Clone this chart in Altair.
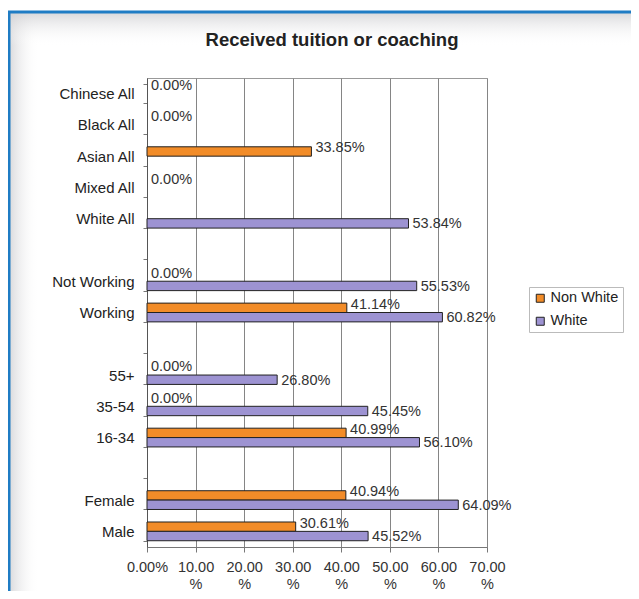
import altair as alt
import pandas as pd

title_text = "Received tuition or coaching"
categories = ["Chinese All", "Black All", "Asian All", "Mixed All", "White All", " ",
              "Not Working", "Working", "  ", "55+", "35-54", "16-34", "   ", "Female", "Male"]
series = ["Non White", "White"]
non_white = [0.00, 0.00, 33.85, 0.00, None, None, 0.00, 41.14, None, 0.00, 0.00, 40.99, None, 40.94, 30.61]
white = [None, None, None, None, 53.84, None, 55.53, 60.82, None, 26.80, 45.45, 56.10, None, 64.09, 45.52]
x_ticks = [0, 10, 20, 30, 40, 50, 60, 70]

ORANGE = "#F28C28"
PURPLE = "#9D93D2"
FONT = "Liberation Sans"

rows = []
for c, nw, w in zip(categories, non_white, white):
    if nw is not None:
        rows.append({"cat": c, "series": "Non White", "value": nw, "label": f"{nw:.2f}%"})
    if w is not None:
        rows.append({"cat": c, "series": "White", "value": w, "label": f"{w:.2f}%"})
df = pd.DataFrame(rows)

W, H = 340, 469

y_enc = alt.Y("cat:N", scale=alt.Scale(domain=categories, paddingInner=0.40, paddingOuter=0.20),
              axis=alt.Axis(title=None, tickBand="extent", ticks=True, tickSize=4, tickColor="#777",
                            domainColor="#555", labelFontSize=15, labelFont=FONT, labelColor="#222",
                            labelPadding=9, grid=False, labelLimit=200))
yoff = alt.YOffset("series:N", scale=alt.Scale(domain=series))
x_enc = alt.X("value:Q", scale=alt.Scale(domain=[0, 70], nice=False),
              axis=alt.Axis(title=None, values=x_ticks, grid=True, gridColor="#858585", gridWidth=1,
                            domainColor="#777", tickColor="#777", tickSize=5, labelFontSize=14.5,
                            labelFont=FONT, labelColor="#333", labelPadding=8, labelLineHeight=17,
                            labelOverlap=False, labelFlush=False, labelBound=False,
                            labelExpr="datum.value == 0 ? '0.00%' : [format(datum.value, '.2f'), '%']"))

bars = alt.Chart(df).transform_filter("datum.value > 0").mark_bar(
    stroke="#222", strokeWidth=1
).encode(
    x=x_enc, y=y_enc, yOffset=yoff,
    color=alt.Color("series:N", scale=alt.Scale(domain=series, range=[ORANGE, PURPLE]),
                    legend=alt.Legend(title=None, orient="none", legendX=382, legendY=209,
                                      symbolType="square", symbolSize=64, symbolStrokeColor="#222",
                                      symbolStrokeWidth=1, labelFontSize=14.5, labelFont=FONT,
                                      labelColor="#222", strokeColor="#bbbbbb", fillColor="white",
                                      padding=4, rowPadding=8, labelOffset=3)),
)

labels_nw = alt.Chart(df).transform_filter("datum.series == 'Non White'").mark_text(
    align="left", baseline="middle", dx=4, dy=-3, fontSize=14.5, font=FONT, color="#333"
).encode(x="value:Q", y=alt.Y("cat:N"), yOffset=yoff, text="label:N")

labels_w = alt.Chart(df).transform_filter("datum.series == 'White'").mark_text(
    align="left", baseline="middle", dx=4, dy=1, fontSize=14.5, font=FONT, color="#333"
).encode(x="value:Q", y=alt.Y("cat:N"), yOffset=yoff, text="label:N")

deco = pd.DataFrame({"t": [title_text]})
left_shadow = alt.Chart(deco).mark_rect(
    fill=alt.Gradient(gradient="linear", x1=0, x2=1, y1=0, y2=0,
                      stops=[alt.GradientStop(color="rgba(205,205,208,0.75)", offset=0),
                             alt.GradientStop(color="rgba(255,255,255,0)", offset=1)])
).encode(x=alt.value(-138), x2=alt.value(-108), y=alt.value(-65), y2=alt.value(520))
top_shadow = alt.Chart(deco).mark_rect(
    fill=alt.Gradient(gradient="linear", x1=0, x2=0, y1=0, y2=1,
                      stops=[alt.GradientStop(color="rgba(205,205,208,0.75)", offset=0),
                             alt.GradientStop(color="rgba(255,255,255,0)", offset=1)])
).encode(x=alt.value(-138), x2=alt.value(484), y=alt.value(-65), y2=alt.value(-32))
blue_top = alt.Chart(deco).mark_rule(color="#1f7cc4", strokeWidth=3).encode(
    x=alt.value(-139), x2=alt.value(484), y=alt.value(-66))
blue_left = alt.Chart(deco).mark_rule(color="#1f7cc4", strokeWidth=3).encode(
    x=alt.value(-138), y=alt.value(-67), y2=alt.value(520))
title = alt.Chart(deco).mark_text(
    fontSize=18.5, fontWeight="bold", font=FONT, color="#222", align="center", baseline="alphabetic"
).encode(x=alt.value(185), y=alt.value(-32), text="t:N")

chart = alt.layer(left_shadow, top_shadow, blue_top, blue_left, title, bars, labels_nw, labels_w).properties(
    width=W, height=H,
    padding={"left": 139, "top": 70, "right": 144, "bottom": 44},
    autosize=alt.AutoSizeParams(type="none"),
    background="white",
).configure_view(stroke="#999", strokeWidth=1)

chart.save("out.html", embed_options={"renderer": "svg", "actions": False})
